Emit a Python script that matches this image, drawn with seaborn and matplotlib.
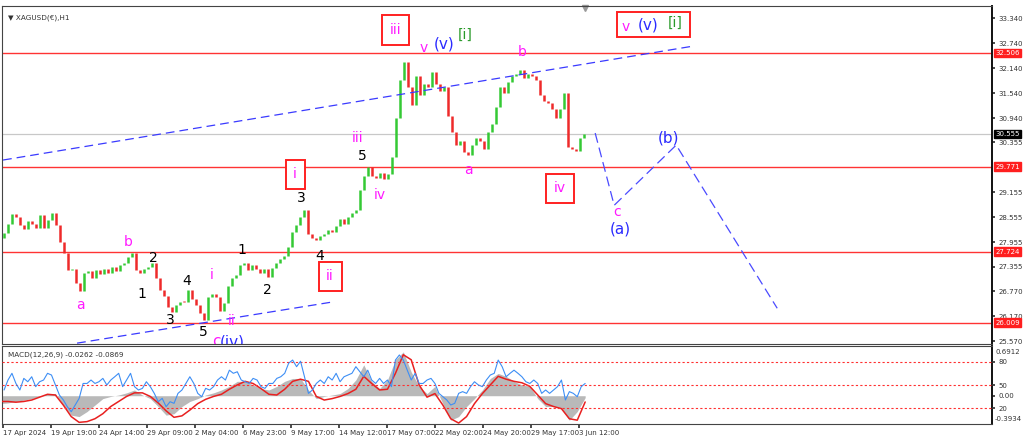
import numpy as np
import matplotlib
matplotlib.use("Agg")
import matplotlib.pyplot as plt
import seaborn as sns
from matplotlib.patches import Rectangle

# ---------------- data ----------------
first_open = 28.05
closes = [
    28.17, 28.40, 28.62, 28.55, 28.36, 28.28, 28.45, 28.38, 28.30, 28.60,
    28.30, 28.48, 28.65, 28.36, 27.95, 27.70, 27.28, 27.30, 26.96, 26.78,
    27.20, 27.25, 27.10, 27.28, 27.18, 27.30, 27.22, 27.35, 27.26, 27.40,
    27.45, 27.60, 27.68, 27.28, 27.20, 27.30, 27.35, 27.45, 27.10, 26.80,
    26.65, 26.40, 26.28, 26.45, 26.52, 26.50, 26.80, 26.58, 26.45, 26.25,
    26.08, 26.62, 26.70, 26.62, 26.30, 26.48, 26.90, 27.10, 27.15, 27.40,
    27.45, 27.28, 27.40, 27.30, 27.20, 27.30, 27.12, 27.33, 27.45, 27.55,
    27.62, 27.83, 28.19, 28.36, 28.55, 28.72, 28.15, 28.05, 28.00, 28.10,
    28.15, 28.25, 28.20, 28.35, 28.50, 28.40, 28.55, 28.65, 28.72, 29.20,
    29.55, 29.76, 29.55, 29.50, 29.62, 29.48, 29.60, 30.00, 30.95, 31.85,
    32.30, 31.70, 31.25, 31.95, 31.50, 31.75, 31.70, 32.05, 31.75, 31.60,
    31.70, 31.00, 30.60, 30.30, 30.40, 30.12, 30.05, 30.30, 30.45, 30.40,
    30.20, 30.60, 30.80, 31.20, 31.70, 31.55, 31.80, 31.95, 32.00, 32.10,
    31.90, 32.00, 31.95, 31.85, 31.50, 31.35, 31.30, 31.15, 30.95, 31.15,
    31.55, 30.25, 30.20, 30.15, 30.45, 30.55,
]

date_labels = ["17 Apr 2024", "19 Apr 19:00", "24 Apr 14:00", "29 Apr 09:00",
               "2 May 04:00", "6 May 23:00", "9 May 17:00", "14 May 12:00",
               "17 May 07:00", "22 May 02:00", "24 May 20:00", "29 May 17:00",
               "3 Jun 12:00"]

levels = [32.506, 29.771, 27.724, 26.009]
last_price = 30.555
price_ticks = [33.340, 32.740, 32.140, 31.540, 30.940, 30.355, 29.155,
               28.555, 27.955, 27.355, 26.770, 26.170, 25.570]

# channel / projection lines (bar index, price)
upper_channel_x = [0.25, 172.5]
upper_channel_y = [29.93, 32.67]
lower_channel_x = [18.75, 82.5]
lower_channel_y = [25.52, 26.51]
proj_x = [148.25, 153.0, 168.5, 193.75]
proj_y = [30.58, 28.84, 30.29, 26.36]

macd_main = [
    -0.11, -0.10, -0.08, -0.06, -0.04, -0.01, 0.03, 0.03, -0.13, -0.27,
    -0.29, -0.22, -0.13, -0.04, -0.01, 0.01, 0.04, 0.08, 0.01, -0.04,
    -0.15, -0.27, -0.25, -0.15, -0.08, -0.04, 0.01, 0.04, 0.08, 0.13,
    0.20, 0.20, 0.15, 0.10, 0.08, 0.13, 0.20, 0.24, 0.24, 0.08,
    -0.04, -0.01, 0.01, 0.03, 0.10, 0.22, 0.43, 0.20, 0.10, 0.22,
    0.50, 0.61, 0.33, 0.13, 0.03, 0.13, -0.11, -0.34, -0.29, -0.15,
    -0.04, 0.08, 0.24, 0.31, 0.27, 0.20, 0.15, 0.13, -0.04, -0.15,
    -0.15, -0.18, -0.34, -0.22, -0.0262,
]
macd_signal = [
    -0.08, -0.08, -0.09, -0.08, -0.06, -0.02, 0.02, 0.01, -0.13, -0.29,
    -0.37, -0.36, -0.32, -0.25, -0.15, -0.08, -0.01, 0.04, 0.04, -0.01,
    -0.10, -0.21, -0.30, -0.28, -0.20, -0.11, -0.05, -0.01, 0.02, 0.09,
    0.15, 0.20, 0.17, 0.10, 0.02, 0.01, 0.09, 0.20, 0.23, 0.20,
    -0.01, -0.06, -0.04, -0.01, 0.03, 0.09, 0.27, 0.17, 0.08, 0.09,
    0.31, 0.57, 0.50, 0.15, -0.02, 0.03, -0.13, -0.32, -0.38, -0.29,
    -0.11, 0.03, 0.15, 0.27, 0.23, 0.20, 0.18, 0.13, 0.01, -0.11,
    -0.15, -0.18, -0.32, -0.34, -0.0869,
]
rsi = [
    43.6, 56.4, 65.0, 52.0, 43.6, 58.5, 54.2, 60.6, 47.9, 54.2,
    56.4, 65.0, 62.8, 50.0, 37.2, 30.8, 22.2, 15.8, 24.4, 32.9,
    52.0, 52.0, 56.4, 52.0, 54.2, 58.5, 50.0, 56.4, 60.6, 65.0,
    47.9, 56.4, 65.0, 47.9, 43.6, 45.7, 54.2, 47.9, 39.3, 28.6,
    32.9, 22.2, 28.6, 26.5, 39.3, 43.6, 52.0, 60.6, 52.0, 39.3,
    35.0, 45.7, 43.6, 47.9, 56.4, 60.6, 56.4, 69.0, 65.0, 67.0,
    56.4, 54.2, 52.0, 58.5, 56.4, 47.9, 45.7, 52.0, 52.0, 58.5,
    60.6, 65.0, 78.0, 82.0, 73.5, 80.5, 60.6, 39.3, 43.6, 52.0,
    56.4, 52.0, 60.6, 56.4, 65.0, 54.2, 60.6, 62.8, 65.0, 73.5,
    67.0, 60.6, 69.0, 56.4, 52.0, 58.5, 52.0, 56.4, 47.9, 82.0,
    88.5, 82.0, 69.0, 56.4, 65.0, 52.0, 52.0, 56.4, 58.5, 52.0,
    39.3, 35.0, 30.8, 24.4, 26.5, 39.3, 41.5, 39.3, 47.9, 54.2,
    50.0, 47.9, 56.4, 62.8, 65.0, 82.0, 73.5, 60.6, 65.0, 69.0,
    65.0, 60.6, 54.2, 52.0, 56.4, 52.0, 39.3, 43.6, 39.3, 43.6,
    47.9, 56.4, 30.8, 41.5, 39.3, 35.0, 47.9, 52.0,
]

# ---------------- style ----------------
sns.set_theme(style="white")
plt.rcParams['font.family'] = ['DejaVu Sans']

UP = "#34c934"
DOWN = "#ee2a2a"
LEVEL_RED = "#ff3333"
MAG = "#ff1aff"
BLUE = "#2b2bff"
GREEN = "#2a9a2a"
FRAME = "#444444"
TXT = "#333333"
AX_FS = 5.0

fig = plt.figure(figsize=(10.24, 4.41), dpi=100)
fig.patch.set_facecolor("white")
ax = fig.add_axes([0.002, 0.22, 0.967, 0.7664])
axm = fig.add_axes([0.002, 0.0385, 0.967, 0.1769], sharex=ax)

n = len(closes)
xs = np.arange(n) + 0.5
c = np.array(closes)
o = np.concatenate([[first_open], c[:-1]])
lo = np.minimum(o, c)
hi = np.maximum(o, c)
hi = np.maximum(hi, lo + 0.03)
cols = [UP if cc >= oo else DOWN for oo, cc in zip(o, c)]

# horizontal levels
for lv in levels:
    ax.axhline(lv, color=LEVEL_RED, lw=1.0, zorder=1)
ax.axhline(last_price, color="#c8c8c8", lw=0.9, zorder=1)

# candles
ax.vlines(xs, lo, hi, colors=cols, lw=1.8, zorder=3)

# channel and projection lines
dash = dict(color="#3a3aff", lw=0.9, dashes=(7, 4), zorder=4)
sns.lineplot(x=upper_channel_x, y=upper_channel_y, ax=ax, **dash)
sns.lineplot(x=lower_channel_x, y=lower_channel_y, ax=ax, **dash)
ax.plot(proj_x, proj_y, color="#4a4aff", lw=0.9, dashes=(8, 4), zorder=4)

ax.set_xlim(0, 247.5)
ax.set_ylim(25.50, 33.64)

# right price axis
ax.yaxis.tick_right()
ax.set_yticks(price_ticks)
ax.set_yticklabels([f"{t:.3f}" for t in price_ticks])
ax.tick_params(axis="y", labelsize=AX_FS, length=2.5, pad=2, colors=TXT, direction="out")
ax.tick_params(axis="x", bottom=False, labelbottom=False)
ax.set_xlabel("")
ax.set_ylabel("")

def price_box(val, fc):
    ax.annotate(f"{val:.3f}", xy=(1.0, val), xycoords=("axes fraction", "data"),
                xytext=(2, 0), textcoords="offset points", ha="left", va="center",
                fontsize=AX_FS, color="white",
                bbox=dict(boxstyle="square,pad=0.2", fc=fc, ec=fc), zorder=10,
                annotation_clip=False)

for lv in levels:
    price_box(lv, "#ff1f1f")
price_box(last_price, "black")

for sp in ax.spines.values():
    sp.set_color(FRAME)
    sp.set_linewidth(0.8)
ax.spines["right"].set_linewidth(1.4)
ax.spines["right"].set_color("#111111")

# title
ax.text(0.006, 0.975, "\u25BC XAGUSD(\u20ac),H1", transform=ax.transAxes,
        fontsize=5.2, color=TXT, ha="left", va="top")
ax.plot([145.75], [33.60], marker="v", color="#999999", ms=4, clip_on=False)

# wave labels
def lab(x, y, s, color, size=10, box=False):
    kw = dict(color=color, fontsize=size, ha="center", va="center", zorder=8)
    if box:
        kw["bbox"] = dict(boxstyle="square,pad=0.55", fc="white", ec="#ff2020", lw=1.4)
    ax.text(x, y, s, **kw)

lab(19.5, 26.43, "a", MAG)
lab(31.5, 27.95, "b", MAG)
lab(35.0, 26.70, "1", "black")
lab(37.75, 27.57, "2", "black")
lab(42.0, 26.07, "3", "black")
lab(46.25, 27.01, "4", "black")
lab(50.25, 25.78, "5", "black")
ax.text(53.5, 25.56, "c", color=MAG, fontsize=11, ha="center", va="center", clip_on=True)
ax.text(57.5, 25.55, "(iv)", color=BLUE, fontsize=11, ha="center", va="center", clip_on=True)
lab(52.5, 27.16, "i", MAG)
lab(57.5, 26.05, "ii", MAG)
lab(60.0, 27.76, "1", "black")
lab(66.25, 26.80, "2", "black")
lab(74.75, 29.01, "3", "black")
lab(79.5, 27.62, "4", "black")
lab(73.25, 29.59, "i", MAG, box=True)
lab(82.0, 27.13, "ii", MAG, box=True)
lab(88.75, 30.46, "iii", MAG)
lab(90.0, 30.02, "5", "black")
lab(94.5, 29.08, "iv", MAG)
lab(98.25, 33.06, "iii", MAG, box=True)
lab(105.5, 32.63, "v", MAG)
lab(110.5, 32.72, "(v)", BLUE, size=11)
lab(115.75, 32.94, "[i]", GREEN)
lab(116.5, 29.69, "a", MAG)
lab(130.0, 32.53, "b", MAG)
lab(139.5, 29.25, "iv", MAG, box=True)
lab(153.75, 28.67, "c", MAG)
lab(154.5, 28.27, "(a)", BLUE, size=11)
lab(166.5, 30.46, "(b)", BLUE, size=11)
# combined box
ax.add_patch(Rectangle((153.75, 32.89), 18.25, 0.60, fill=True, fc="white",
                       ec="#ff2020", lw=1.4, zorder=7))
lab(156.0, 33.13, "v", MAG)
lab(161.5, 33.19, "(v)", BLUE, size=11)
lab(168.25, 33.24, "[i]", GREEN)

# ---------------- MACD panel ----------------
mx = np.linspace(-0.5, 145.75, len(macd_main))
rx = np.linspace(0.5, 145.75, len(rsi))
axm.fill_between(mx, 0, macd_main, color="#b9b9b9", lw=0, zorder=2)
sns.lineplot(x=mx, y=macd_signal, ax=axm, color="#e82020", lw=1.1, zorder=4)
axm.set_ylim(-0.3934, 0.6912)

axr = axm.twinx()
for lv in (80, 50, 20):
    axr.axhline(lv, color="#ff3030", lw=0.8, ls=(0, (2, 2)), zorder=1)
sns.lineplot(x=rx, y=rsi, ax=axr, color="#3d8ef5", lw=0.8, zorder=5)
axr.set_ylim(0, 100)
axr.set_yticks([80, 50, 20])
axr.set_yticklabels(["80", "50", "20"])
axr.tick_params(axis="y", labelsize=AX_FS, length=2.5, pad=2, colors=TXT)
axr.set_ylabel("")
for sp in axr.spines.values():
    sp.set_visible(False)

axm.yaxis.tick_right()
axm.set_yticks([0.0])
axm.set_yticklabels(["0.00"])
axm.tick_params(axis="y", labelsize=AX_FS, length=2.5, pad=2, colors=TXT,
                left=False, labelleft=False, right=True, labelright=True)
axm.set_ylabel("")

axm.annotate("0.6912", xy=(1.0, 0.92), xycoords="axes fraction", xytext=(2, 0),
             textcoords="offset points", ha="left", va="center", fontsize=AX_FS, color=TXT,
             annotation_clip=False)
axm.annotate("-0.3934", xy=(1.0, 0.06), xycoords="axes fraction", xytext=(2, 0),
             textcoords="offset points", ha="left", va="center", fontsize=AX_FS, color=TXT,
             annotation_clip=False)
axm.text(0.006, 0.93, "MACD(12,26,9) -0.0262 -0.0869", transform=axm.transAxes,
         fontsize=5.2, color=TXT, ha="left", va="top")

for sp in axm.spines.values():
    sp.set_color(FRAME)
    sp.set_linewidth(0.8)
axm.spines["right"].set_linewidth(1.4)
axm.spines["right"].set_color("#111111")

tick_pos = np.arange(len(date_labels)) * 12 + 0.25
axm.set_xticks(tick_pos)
axm.set_xticklabels(date_labels, ha="left")
axm.tick_params(axis="x", labelsize=5.0, length=3, pad=1.5, colors=TXT, bottom=True, direction="out")
axm.set_xlim(0, 247.5)

fig.savefig("out.png", dpi=100, facecolor="white")
